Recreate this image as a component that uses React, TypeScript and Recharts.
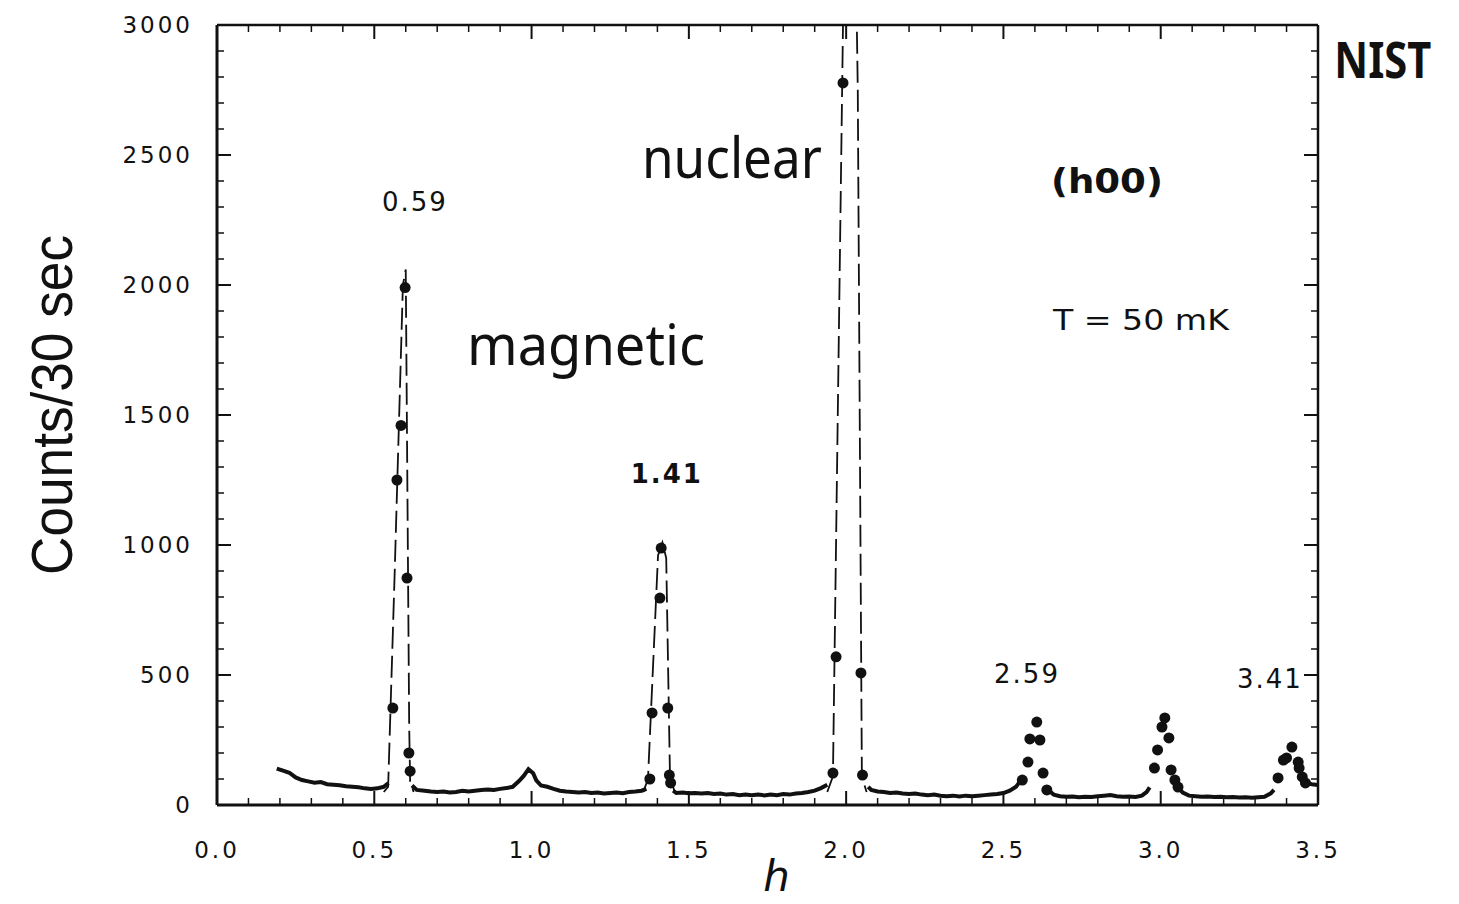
import React from 'react';
import { ComposedChart, Line, Scatter, XAxis, YAxis, ReferenceDot, ReferenceLine } from 'recharts';

// [h, counts / 30 s]  -- dense scan points, null = break at a peak
const background: [number, number | null][] = [
  [0.19, 140], [0.21, 132], [0.23, 124], [0.25, 106], [0.27, 96], [0.29, 91], [0.31, 86],
  [0.33, 88], [0.35, 80], [0.37, 78], [0.39, 76], [0.41, 72], [0.43, 70], [0.45, 68],
  [0.47, 64], [0.49, 62], [0.51, 64], [0.53, 70], [0.545, 84],
  [0.58, null],
  [0.62, 75], [0.635, 58], [0.66, 55], [0.68, 52], [0.7, 50], [0.72, 52], [0.74, 48],
  [0.76, 50], [0.78, 55], [0.8, 52], [0.82, 55], [0.84, 58], [0.86, 60], [0.88, 58],
  [0.9, 62], [0.92, 65], [0.94, 70], [0.96, 92], [0.975, 112], [0.99, 138], [1.005, 122],
  [1.015, 95], [1.03, 75], [1.05, 70], [1.07, 62], [1.09, 55], [1.11, 52], [1.13, 50],
  [1.15, 48], [1.17, 50], [1.19, 46], [1.21, 48], [1.23, 44], [1.25, 46], [1.27, 48],
  [1.29, 45], [1.31, 50], [1.33, 52], [1.35, 55], [1.365, 62],
  [1.4, null],
  [1.45, 55], [1.46, 46], [1.48, 48], [1.5, 45], [1.52, 46], [1.54, 44], [1.56, 46],
  [1.58, 42], [1.6, 44], [1.62, 40], [1.64, 42], [1.66, 38], [1.68, 40], [1.7, 38],
  [1.72, 40], [1.74, 37], [1.76, 40], [1.78, 38], [1.8, 42], [1.82, 40], [1.84, 44],
  [1.86, 46], [1.88, 50], [1.9, 55], [1.92, 65], [1.94, 78],
  [2.0, null],
  [2.07, 70], [2.08, 58], [2.1, 52], [2.12, 50], [2.14, 46], [2.16, 48], [2.18, 44],
  [2.2, 42], [2.22, 44], [2.24, 40], [2.26, 38], [2.28, 40], [2.3, 36], [2.32, 34],
  [2.34, 36], [2.36, 33], [2.38, 36], [2.4, 34], [2.42, 36], [2.44, 38], [2.46, 40],
  [2.48, 42], [2.5, 46], [2.52, 55], [2.54, 70], [2.555, 95],
  [2.6, null],
  [2.645, 55], [2.66, 40], [2.68, 34], [2.7, 32], [2.72, 33], [2.74, 30], [2.76, 32],
  [2.78, 31], [2.8, 34], [2.82, 36], [2.84, 38], [2.86, 34], [2.88, 32], [2.9, 33],
  [2.92, 31], [2.94, 36], [2.955, 50], [2.965, 68],
  [3.0, null],
  [3.06, 62], [3.07, 48], [3.09, 36], [3.11, 34], [3.13, 32], [3.15, 33], [3.17, 31],
  [3.19, 32], [3.21, 30], [3.23, 31], [3.25, 29], [3.27, 30], [3.29, 28], [3.31, 30],
  [3.33, 32], [3.35, 45], [3.36, 58],
  [3.4, null],
  [3.465, 85], [3.48, 80], [3.5, 77],
];

// resolved points on the peaks
const peak059: [number, number][] = [
  [0.559, 373], [0.572, 1250], [0.585, 1460], [0.598, 1990], [0.604, 873], [0.61, 200], [0.614, 130],
];
const peak141: [number, number][] = [
  [1.376, 100], [1.383, 354], [1.408, 796], [1.412, 988], [1.433, 373], [1.438, 115], [1.442, 85],
];
const peak200: [number, number][] = [
  [1.958, 123], [1.968, 570], [1.99, 2777], [2.047, 508], [2.052, 115],
];
const peak259: [number, number][] = [
  [2.56, 96], [2.578, 165], [2.584, 254], [2.606, 319], [2.616, 250], [2.626, 123], [2.638, 58],
];
const peak300: [number, number][] = [
  [2.98, 142], [2.99, 212], [3.004, 300], [3.013, 335], [3.026, 258], [3.033, 135], [3.045, 96], [3.055, 69],
];
const peak341: [number, number][] = [
  [3.373, 104], [3.39, 173], [3.4, 181], [3.417, 223], [3.437, 165], [3.44, 142], [3.45, 108], [3.46, 85],
];

// dashed fits
const fit059: [number, number][] = [
  [0.53, 50], [0.544, 70], [0.565, 900], [0.591, 2000], [0.6, 2060], [0.606, 1100], [0.611, 300], [0.614, 90], [0.625, 50],
];
const fit141: [number, number][] = [
  [1.355, 50], [1.37, 100], [1.402, 960], [1.416, 1010], [1.428, 950], [1.44, 110], [1.455, 50],
];
const fit200: [number, number][] = [
  [1.94, 50], [1.958, 110], [1.99, 3000], [2.012, 4800], [2.037, 2750], [2.05, 110], [2.065, 50],
];

const xMajor = [0, 0.5, 1, 1.5, 2, 2.5, 3, 3.5];
const xAll = [0, 0.1, 0.2, 0.3, 0.4, 0.5, 0.6, 0.7, 0.8, 0.9, 1, 1.1, 1.2, 1.3, 1.4, 1.5, 1.6, 1.7, 1.8,
  1.9, 2, 2.1, 2.2, 2.3, 2.4, 2.5, 2.6, 2.7, 2.8, 2.9, 3, 3.1, 3.2, 3.3, 3.4, 3.5];
const yAll = [0, 100, 200, 300, 400, 500, 600, 700, 800, 900, 1000, 1100, 1200, 1300, 1400, 1500, 1600,
  1700, 1800, 1900, 2000, 2100, 2200, 2300, 2400, 2500, 2600, 2700, 2800, 2900, 3000];

const toRows = (pts: [number, number | null][]) => pts.map(([h, c]) => ({ h, c }));

const INK = '#111';
const FONT = 'DejaVu Sans';
const HAND = 'Noto Sans';

// layout
const W = 1459;
const H = 904;
const M = { top: 25, right: 141, bottom: 0, left: 0 };
const X_AXIS_H = 99;
const Y_AXIS_W = 217;
const PLOT_TOP = M.top;
const PLOT_RIGHT = W - M.right;
const TICK_SIZE = 6;
const X_MARGIN = 30;
const Y_MARGIN = 18;

const isMajorX = (v: number) => Math.abs(v * 2 - Math.round(v * 2)) < 1e-6;
const isMajorY = (v: number) => v % 500 === 0;

// label + inward ticks on bottom and top edge
const XTick = (p: any) => {
  const v = Number(p.payload.value);
  const major = isMajorX(v);
  const len = major ? 14 : 7;
  const sw = major ? 2 : 1.5;
  const axisY = p.y - TICK_SIZE - X_MARGIN;
  return (
    <g>
      <line x1={p.x} x2={p.x} y1={axisY} y2={axisY - len} stroke={INK} strokeWidth={sw} />
      <line x1={p.x} x2={p.x} y1={PLOT_TOP} y2={PLOT_TOP + len} stroke={INK} strokeWidth={sw} />
      {major && (
        <text x={p.x} y={p.y} dy={17} textAnchor='middle' fontFamily={FONT} fontSize={23} fill={INK}
          style={{ letterSpacing: '3px' }}>
          {v.toFixed(1)}
        </text>
      )}
    </g>
  );
};
// label + inward ticks on left and right edge
const YTick = (p: any) => {
  const v = Number(p.payload.value);
  const major = isMajorY(v);
  const len = major ? 14 : 7;
  const sw = major ? 2 : 1.5;
  const axisX = p.x + TICK_SIZE + Y_MARGIN;
  return (
    <g>
      <line x1={axisX} x2={axisX + len} y1={p.y} y2={p.y} stroke={INK} strokeWidth={sw} />
      <line x1={PLOT_RIGHT} x2={PLOT_RIGHT - len} y1={p.y} y2={p.y} stroke={INK} strokeWidth={sw} />
      {major && (
        <text x={p.x} y={p.y} dy={8} textAnchor='end' fontFamily={FONT} fontSize={23} fill={INK}
          style={{ letterSpacing: '3px' }}>
          {v}
        </text>
      )}
    </g>
  );
};

// text annotation anchored on a data coordinate
const note = (text: string, o: { size: number; bold?: boolean; font?: string; len?: number; spacing?: number }) =>
  (p: any) => {
    const vb = p.viewBox;
    const cx = vb.x + vb.width / 2;
    const cy = vb.y + vb.height / 2;
    return (
      <text x={cx} y={cy} textAnchor='middle' fontFamily={o.font ?? FONT} fontSize={o.size}
        fontWeight={o.bold ? 'bold' : 'normal'} fill={INK}
        textLength={o.len} lengthAdjust={o.len ? 'spacingAndGlyphs' : undefined}
        style={{ letterSpacing: `${o.spacing ?? 0}px` }}>
        {text}
      </text>
    );
  };

const Dot = (p: any) => <circle cx={p.cx} cy={p.cy} r={5.5} fill={INK} />;

const annotations = [
  { h: 0.629, c: 2285, text: '0.59', o: { size: 26, spacing: 2 } },
  { h: 1.43, c: 1238, text: '1.41', o: { size: 26, bold: true, spacing: 2 } },
  { h: 2.575, c: 469, text: '2.59', o: { size: 26, spacing: 2 } },
  { h: 3.347, c: 450, text: '3.41', o: { size: 26, spacing: 2 } },
  { h: 2.829, c: 2354, text: '(h00)', o: { size: 33, bold: true, len: 112 } },
  { h: 2.937, c: 1827, text: 'T = 50 mK', o: { size: 28, len: 176 } },
  { h: 1.637, c: 2412, text: 'nuclear', o: { size: 56, font: HAND, len: 180 } },
  { h: 1.173, c: 1692, text: 'magnetic', o: { size: 56, font: HAND, len: 238 } },
  { h: 3.706, c: 2796, text: 'NIST', o: { size: 50, font: HAND, bold: true, len: 97 } },
];

export default function App() {
  const bgRows = toRows(background);
  const dotRows = toRows([...peak059, ...peak141, ...peak200, ...peak259, ...peak300, ...peak341]);

  return (
    <div style={{ position: 'absolute', left: 0, top: 0, width: W, height: H, background: '#fff' }}>
      <ComposedChart width={W} height={H} margin={M}>
        <XAxis xAxisId='main' dataKey='h' type='number' domain={[0, 3.5]} ticks={xAll} interval={0}
          allowDataOverflow height={X_AXIS_H} tickLine={false} tickSize={TICK_SIZE} tickMargin={X_MARGIN}
          axisLine={{ stroke: INK, strokeWidth: 3 }} tick={<XTick />}
          label={(p: any) => (
            <text x={p.viewBox.x + p.viewBox.width / 2 + 9} y={p.viewBox.y + 86} textAnchor='middle'
              fontFamily={FONT} fontStyle='italic' fontSize={42} fill={INK}>h</text>
          )} />
        <YAxis yAxisId='main' dataKey='c' type='number' domain={[0, 3000]} ticks={yAll} interval={0}
          allowDataOverflow width={Y_AXIS_W} tickLine={false} tickSize={TICK_SIZE} tickMargin={Y_MARGIN}
          axisLine={{ stroke: INK, strokeWidth: 3 }} tick={<YTick />}
          label={(p: any) => (
            <text transform={`translate(${p.viewBox.x + 72},${p.viewBox.y + p.viewBox.height / 2 - 10}) rotate(-90)`}
              textAnchor='middle' fontFamily='Liberation Sans' fontSize={58} fill={INK}
              textLength={340} lengthAdjust='spacingAndGlyphs'>Counts/30 sec</text>
          )} />

        {/* top and right sides of the frame */}
        <ReferenceLine xAxisId='main' yAxisId='main' y={3000} stroke={INK} strokeWidth={2.5} ifOverflow='visible' />
        <ReferenceLine xAxisId='main' yAxisId='main' x={3.5} stroke={INK} strokeWidth={2.5} ifOverflow='visible' />

        {/* fits */}
        {[fit059, fit141, fit200].map((f, i) => (
          <Line key={i} xAxisId='main' yAxisId='main' data={toRows(f)} dataKey='c' type='linear'
            stroke={INK} strokeWidth={1.8} strokeDasharray='22 7' dot={false} isAnimationActive={false} />
        ))}

        {/* scan */}
        <Line xAxisId='main' yAxisId='main' data={bgRows} dataKey='c' type='linear' stroke={INK}
          strokeWidth={4} dot={false} connectNulls={false} isAnimationActive={false} />
        <Scatter xAxisId='main' yAxisId='main' data={dotRows} dataKey='c' fill={INK}
          shape={<Dot />} isAnimationActive={false} />

        {annotations.map((a) => (
          <ReferenceDot key={a.text} xAxisId='main' yAxisId='main' x={a.h} y={a.c} r={1}
            fill='none' stroke='none' ifOverflow='visible' label={note(a.text, a.o)} />
        ))}
      </ComposedChart>
    </div>
  );
}
